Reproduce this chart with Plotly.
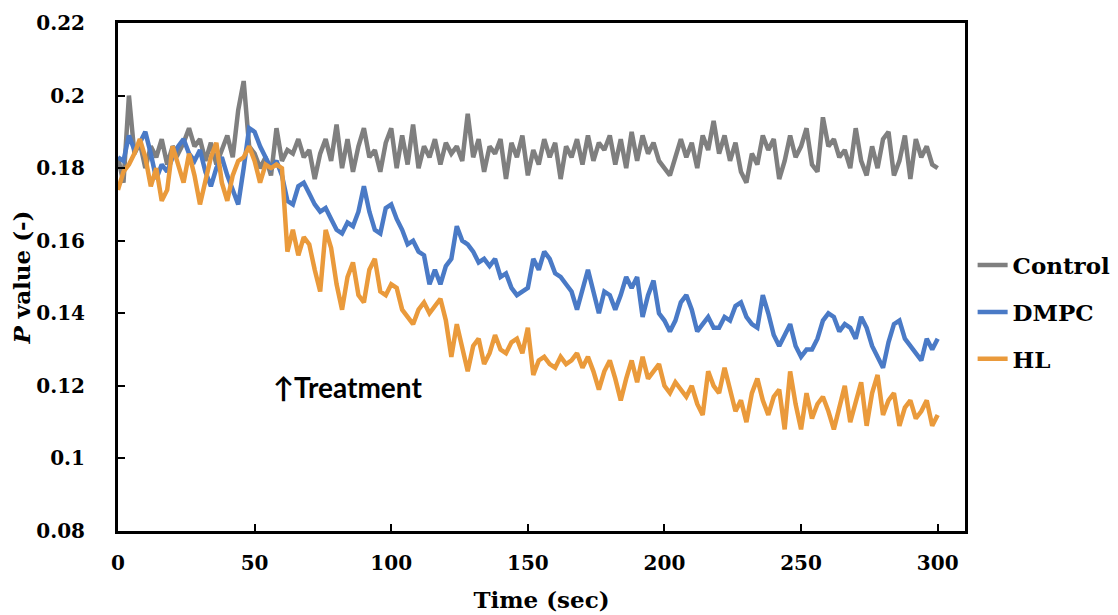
import plotly.graph_objects as go

time_sec = list(range(0, 301, 2))

control = [
    0.183, 0.176, 0.200, 0.184, 0.187, 0.180, 0.186, 0.183, 0.188, 0.181,
    0.186, 0.184, 0.187, 0.191, 0.186, 0.188, 0.182, 0.187, 0.181, 0.185,
    0.189, 0.183, 0.196, 0.204, 0.186, 0.184, 0.180, 0.183, 0.178, 0.191,
    0.182, 0.185, 0.184, 0.188, 0.183, 0.185, 0.177, 0.184, 0.188, 0.182,
    0.192, 0.180, 0.188, 0.179, 0.186, 0.191, 0.183, 0.185, 0.179, 0.187,
    0.191, 0.180, 0.189, 0.181, 0.192, 0.180, 0.186, 0.183, 0.188, 0.181,
    0.187, 0.184, 0.186, 0.182, 0.195, 0.183, 0.188, 0.179, 0.186, 0.184,
    0.188, 0.177, 0.187, 0.183, 0.189, 0.178, 0.185, 0.181, 0.188, 0.183,
    0.187, 0.177, 0.186, 0.183, 0.188, 0.181, 0.189, 0.182, 0.187, 0.185,
    0.189, 0.181, 0.188, 0.180, 0.190, 0.182, 0.189, 0.184, 0.187, 0.182,
    0.180, 0.178, 0.183, 0.188, 0.183, 0.187, 0.180, 0.189, 0.185, 0.193,
    0.184, 0.189, 0.182, 0.187, 0.179, 0.176, 0.184, 0.181, 0.189, 0.185,
    0.188, 0.177, 0.182, 0.189, 0.183, 0.186, 0.191, 0.181, 0.179, 0.194,
    0.186, 0.188, 0.183, 0.185, 0.180, 0.191, 0.182, 0.178, 0.186, 0.180,
    0.188, 0.190, 0.178, 0.182, 0.189, 0.177, 0.188, 0.183, 0.186, 0.181,
    0.180,
]

dmpc = [
    0.183, 0.182, 0.189, 0.185, 0.187, 0.190, 0.184, 0.177, 0.181, 0.179,
    0.183, 0.186, 0.188, 0.184, 0.182, 0.185, 0.179, 0.175, 0.180, 0.183,
    0.178, 0.174, 0.170, 0.180, 0.191, 0.190, 0.186, 0.183, 0.180, 0.182,
    0.178, 0.171, 0.170, 0.175, 0.176, 0.173, 0.170, 0.168, 0.169, 0.166,
    0.163, 0.162, 0.165, 0.164, 0.168, 0.175, 0.168, 0.163, 0.162, 0.169,
    0.170, 0.166, 0.163, 0.159, 0.160, 0.157, 0.156, 0.148, 0.152, 0.148,
    0.153, 0.155, 0.164, 0.160, 0.159, 0.157, 0.154, 0.155, 0.153, 0.155,
    0.150, 0.151, 0.147, 0.145, 0.146, 0.147, 0.155, 0.152, 0.157, 0.155,
    0.151, 0.150, 0.148, 0.146, 0.141, 0.147, 0.152, 0.146, 0.140, 0.146,
    0.145, 0.141, 0.145, 0.150, 0.147, 0.150, 0.139, 0.145, 0.149, 0.140,
    0.138, 0.135, 0.138, 0.143, 0.145, 0.141, 0.135, 0.137, 0.139, 0.136,
    0.136, 0.139, 0.138, 0.142, 0.143, 0.139, 0.137, 0.136, 0.145, 0.140,
    0.134, 0.131, 0.134, 0.137, 0.131, 0.128, 0.130, 0.130, 0.133, 0.138,
    0.140, 0.139, 0.135, 0.137, 0.136, 0.133, 0.139, 0.136, 0.131, 0.128,
    0.125, 0.132, 0.137, 0.138, 0.133, 0.131, 0.129, 0.127, 0.133, 0.130,
    0.133,
]

hl = [
    0.174, 0.179, 0.181, 0.184, 0.188, 0.183, 0.175, 0.180, 0.171, 0.174,
    0.186, 0.181, 0.176, 0.184, 0.178, 0.170, 0.176, 0.183, 0.187, 0.176,
    0.171, 0.178, 0.182, 0.183, 0.186, 0.182, 0.176, 0.181, 0.180, 0.181,
    0.180, 0.157, 0.163, 0.156, 0.161, 0.159, 0.152, 0.146, 0.163, 0.158,
    0.148, 0.141, 0.150, 0.154, 0.145, 0.143, 0.152, 0.155, 0.146, 0.145,
    0.148, 0.147, 0.141, 0.139, 0.137, 0.141, 0.143, 0.140, 0.142, 0.144,
    0.138, 0.128, 0.137, 0.131, 0.124, 0.131, 0.133, 0.126, 0.129, 0.134,
    0.130, 0.129, 0.132, 0.133, 0.129, 0.136, 0.123, 0.127, 0.128, 0.126,
    0.125, 0.128, 0.126, 0.127, 0.129, 0.125, 0.128, 0.124, 0.119, 0.124,
    0.127, 0.122, 0.116, 0.122, 0.127, 0.121, 0.128, 0.122, 0.124, 0.126,
    0.120, 0.118, 0.121, 0.119, 0.117, 0.120, 0.115, 0.112, 0.124, 0.120,
    0.118, 0.125, 0.119, 0.113, 0.116, 0.110, 0.118, 0.122, 0.116, 0.112,
    0.117, 0.119, 0.108, 0.124, 0.115, 0.108, 0.118, 0.111, 0.115, 0.117,
    0.113, 0.108, 0.114, 0.120, 0.110, 0.116, 0.121, 0.109, 0.118, 0.123,
    0.112, 0.116, 0.118, 0.109, 0.114, 0.116, 0.111, 0.113, 0.116, 0.109,
    0.112,
]

series_names = ["Control", "DMPC", "HL"]
series_colors = ["#7F7F7F", "#4A7AC6", "#EA9A3B"]

x_tickvals = [0, 50, 100, 150, 200, 250, 300]
y_tickvals = [0.08, 0.10, 0.12, 0.14, 0.16, 0.18, 0.20, 0.22]
y_ticktext = ["0.08", "0.1", "0.12", "0.14", "0.16", "0.18", "0.2", "0.22"]

serif = "DejaVu Serif"

fig = go.Figure()
for name, vals, col in zip(series_names, [control, dmpc, hl], series_colors):
    fig.add_trace(go.Scatter(
        x=time_sec, y=vals, mode="lines", name=name, legendgroup=name,
        line=dict(color=col, width=4.5),
    ))

# the page places the figure 8px from the top-left corner, so the figure is
# sized 8px smaller and the margins are shifted accordingly
fig.update_layout(
    width=1110, height=607,
    margin=dict(l=110, r=153, t=15, b=84, autoexpand=False),
    paper_bgcolor="white", plot_bgcolor="white",
    showlegend=True,
    legend=dict(
        x=1.009, y=0.431, xanchor="left", yanchor="middle",
        font=dict(family=serif, size=23, color="black", weight="bold"),
        traceorder="grouped", tracegroupgap=14,
        bgcolor="rgba(0,0,0,0)", itemwidth=30,
    ),
    xaxis=dict(
        range=[0, 310], tickvals=x_tickvals, automargin=False,
        showline=True, linecolor="black", linewidth=3, mirror=True,
        ticks="inside", ticklen=7, tickwidth=2, tickcolor="black",
        showgrid=False, zeroline=False,
        tickfont=dict(family=serif, size=20, color="black", weight="bold"),
        ticklabelstandoff=12,
        title=dict(text="Time (sec)", standoff=18,
                   font=dict(family=serif, size=23, color="black", weight="bold")),
    ),
    yaxis=dict(
        range=[0.08, 0.22], tickvals=y_tickvals, ticktext=y_ticktext,
        automargin=False,
        showline=True, linecolor="black", linewidth=3, mirror=True,
        ticks="inside", ticklen=7, tickwidth=2, tickcolor="black",
        showgrid=False, zeroline=False,
        tickfont=dict(family=serif, size=20, color="black", weight="bold"),
        ticklabelstandoff=26,
        title=dict(text="<i>P</i> value (-)", standoff=2,
                   font=dict(family=serif, size=23, color="black", weight="bold")),
    ),
)

fig.add_annotation(
    x=56, y=0.1196, xref="x", yref="y", xanchor="left", yanchor="middle",
    text="↑Treatment", showarrow=False,
    font=dict(family="Lato", size=28, color="black", weight="bold"),
)

fig.write_html("out.html")
